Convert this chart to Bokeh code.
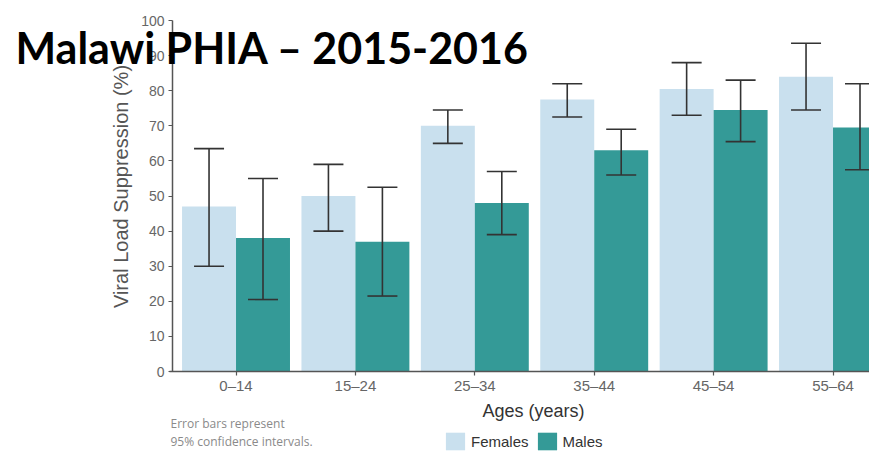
import math
from bokeh.plotting import figure
from bokeh.models import (ColumnDataSource, Range1d, FixedTicker, Whisker, TeeHead,
                          Label, Legend, LegendItem, LinearAxis)
from bokeh.transform import dodge
from bokeh.embed import file_html
from bokeh.resources import INLINE

# ---- data ----
ages = ["0–14", "15–24", "25–34", "35–44", "45–54", "55–64"]
females = [47, 50, 70, 77.5, 80.5, 84]
females_lo = [30, 40, 65, 72.5, 73, 74.5]
females_hi = [63.5, 59, 74.5, 82, 88, 93.5]
males = [38, 37, 48, 63, 74.5, 69.5]
males_lo = [20.5, 21.5, 39, 56, 65.5, 57.5]
males_hi = [55, 52.5, 57, 69, 83, 82]
y_ticks = [0, 10, 20, 30, 40, 50, 60, 70, 80, 90, 100]

title_text = "Malawi PHIA – 2015-2016"
y_label = "Viral Load Suppression (%)"
x_label = "Ages (years)"
note_lines = ["Error bars represent", "95% confidence intervals."]

F_COL = "#c9e0ee"
M_COL = "#349a97"
AX_COL = "#555555"

W, H = 869, 452
# frame covers the whole canvas; axes are pinned with fixed_location
px_per_cat = 119.4
px_per_pct = 3.51
x_axis_px, y0_px = 172, 371
x_start = -0.532 - x_axis_px / px_per_cat
x_end = -0.532 + (W - x_axis_px) / px_per_cat
y_start = -(H - y0_px) / px_per_pct
y_end = y0_px / px_per_pct

src = ColumnDataSource(dict(
    x=list(range(len(ages))),
    f=females, f_lo=females_lo, f_hi=females_hi,
    m=males, m_lo=males_lo, m_hi=males_hi,
))

p = figure(width=W, height=H, output_backend="svg", toolbar_location=None,
           x_range=Range1d(x_start, x_end), y_range=Range1d(y_start, y_end),
           x_axis_type=None, y_axis_type=None,
           min_border=0)
p.outline_line_color = None
p.grid.visible = False
p.background_fill_color = "white"
p.border_fill_color = "white"

off = 0.226
w = 0.452
rf = p.vbar(x=dodge("x", -off, range=p.x_range), top="f", width=w, bottom=0,
            source=src, fill_color=F_COL, line_color=None)
rm = p.vbar(x=dodge("x", off, range=p.x_range), top="m", width=w, bottom=0,
            source=src, fill_color=M_COL, line_color=None)

for dx, lo, hi in [(-off, "f_lo", "f_hi"), (off, "m_lo", "m_hi")]:
    wk = Whisker(base=dodge("x", dx, range=p.x_range), lower=lo, upper=hi, source=src,
                 line_color="#333333", line_width=1.6, level="annotation",
                 upper_head=TeeHead(size=30, line_color="#333333", line_width=1.6),
                 lower_head=TeeHead(size=30, line_color="#333333", line_width=1.6))
    p.add_layout(wk)

# axes
xaxis = LinearAxis(fixed_location=0, bounds=(-0.56, x_end),
                   ticker=FixedTicker(ticks=list(range(len(ages)))),
                   major_label_overrides={i: a for i, a in enumerate(ages)})
yaxis = LinearAxis(fixed_location=-0.532, bounds=(0, 100),
                   ticker=FixedTicker(ticks=y_ticks))
p.add_layout(xaxis, "below")
p.add_layout(yaxis, "left")
for ax, fs in ((xaxis, "15px"), (yaxis, "14px")):
    ax.axis_line_color = AX_COL
    ax.axis_line_width = 1.5
    ax.major_tick_line_color = AX_COL
    ax.major_tick_line_width = 1.2
    ax.major_tick_out = 4
    ax.major_tick_in = 0
    ax.minor_tick_line_color = None
    ax.major_label_text_font = "Liberation Sans"
    ax.major_label_text_font_size = fs
    ax.major_label_text_color = "#666666"
xaxis.major_label_standoff = 1
yaxis.major_label_standoff = 4

# texts (screen units: from the canvas' bottom-left)
p.add_layout(Label(x=120, y=H - 186, x_units="screen", y_units="screen", text=y_label,
                   angle=math.pi / 2, text_font="Liberation Sans", text_font_size="20px",
                   text_color="#555555", text_align="center", text_baseline="middle"))
p.add_layout(Label(x=533, y=H - 410, x_units="screen", y_units="screen", text=x_label,
                   text_font="Liberation Sans", text_font_size="18px",
                   text_color="#333333", text_align="center", text_baseline="middle"))
for i, line in enumerate(note_lines):
    p.add_layout(Label(x=170, y=H - 423 - 18 * i, x_units="screen", y_units="screen",
                       text=line, text_font="Open Sans", text_font_size="12px",
                       text_color="#8a8a8a", text_align="left", text_baseline="middle"))

legend = Legend(items=[LegendItem(label="Females", renderers=[rf]),
                       LegendItem(label="Males", renderers=[rm])],
                orientation="horizontal", location=(443, 0),
                glyph_width=24, glyph_height=22, padding=0, margin=0, spacing=6,
                label_standoff=4, label_text_font="Liberation Sans",
                label_text_font_size="15px", label_text_color="#333333",
                border_line_color=None, background_fill_alpha=0)
p.add_layout(legend, "center")

p.add_layout(Label(x=15, y=H - 47, x_units="screen", y_units="screen", text=title_text,
                   text_font="Lato", text_font_style="bold", text_font_size="43px",
                   text_color="black", text_baseline="alphabetic", text_align="left",
                   level="overlay"))

open("out.html", "w").write(file_html(p, INLINE))
